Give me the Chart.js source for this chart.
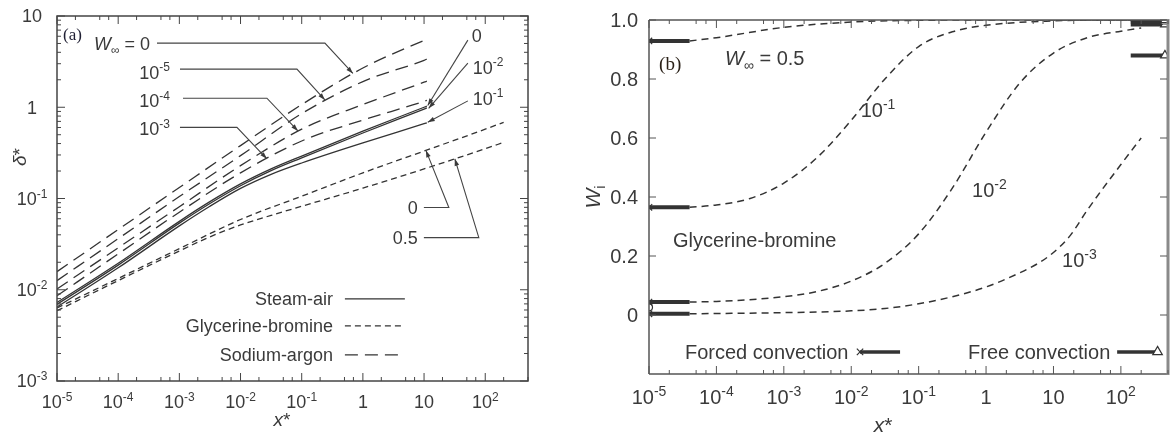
<!DOCTYPE html>
<html>
<head>
<meta charset="utf-8">
<script src="https://cdn.jsdelivr.net/npm/chart.js@4.4.1/dist/chart.umd.min.js"></script>
<style>
html, body { margin: 0; padding: 0; background: #fff; }
#wrap { position: relative; width: 1170px; height: 435px; overflow: hidden; }
#left { position: absolute; left: 0; top: 0; }
#right { position: absolute; left: 585px; top: 0; }
</style>
</head>
<body>
<div id="wrap">
<canvas id="left" width="585" height="435"></canvas>
<canvas id="right" width="585" height="435"></canvas>
</div>
<script>
// ---- (a) delta* against x* ----
var xSteam = [1e-5, 1e-4, 1e-3, 3.16e-3, 1e-2, 3.16e-2, 1e-1, 1, 10, 11.1];
var steamAir_W0 = [0.00724, 0.0195, 0.0562, 0.0923, 0.1445, 0.211, 0.292, 0.547, 1.00, 1.028];
var steamAir_W1em2 = [0.00692, 0.0186, 0.0537, 0.0881, 0.138, 0.202, 0.279, 0.522, 0.955, 0.982];
var steamAir_W1em1 = [0.00646, 0.0174, 0.0501, 0.0822, 0.129, 0.184, 0.245, 0.407, 0.661, 0.676];
var xNaAr = [1e-5, 1e-4, 1e-3, 1e-2, 1e-1, 1, 10, 11.1];
var sodiumArgon_W0 = [0.0158, 0.0457, 0.132, 0.380, 1.07, 2.69, 5.40, 5.56];
var sodiumArgon_W1em5 = [0.0126, 0.0363, 0.105, 0.295, 0.851, 1.91, 3.27, 3.37];
var sodiumArgon_W1em4 = [0.0102, 0.0288, 0.0813, 0.229, 0.575, 1.07, 1.88, 1.93];
var sodiumArgon_W1em3 = [0.00859, 0.0247, 0.0708, 0.191, 0.427, 0.724, 1.16, 1.19];
var xGly0 = [1e-5, 1e-4, 1e-3, 1e-2, 1e-1, 1, 10, 100, 200];
var glyBrom_W0 = [0.00631, 0.0133, 0.0282, 0.0589, 0.106, 0.191, 0.331, 0.575, 0.684];
var xGly05 = [1e-5, 1e-4, 1e-3, 3.16e-3, 1e-2, 3.16e-2, 1e-1, 1, 10, 100, 200];
var glyBrom_W05 = [0.00589, 0.0126, 0.0266, 0.038, 0.0513, 0.0653, 0.0822, 0.130, 0.211, 0.351, 0.412];

var xTickValsA = [1e-5, 1e-4, 1e-3, 1e-2, 1e-1, 1, 10, 100];
var xTickLabelsA = ['10^-5', '10^-4', '10^-3', '10^-2', '10^-1', '1', '10', '10^2'];
var yTickValsA = [1e-3, 1e-2, 1e-1, 1, 10];
var yTickLabelsA = ['10^-3', '10^-2', '10^-1', '1', '10'];

// ---- (b) W_i against x*, glycerine-bromine ----
var xW05 = [4e-5, 1e-4, 1e-3, 1e-2, 1e-1, 1, 10, 100, 200];
var wW05 = [0.929, 0.94, 0.975, 0.993, 0.999, 1.0, 1.0, 1.0, 1.0];
var xW1em1 = [4e-5, 1e-4, 3.16e-4, 1e-3, 3.16e-3, 1e-2, 3.16e-2, 0.1, 0.316, 1, 10, 100, 200];
var wW1em1 = [0.365, 0.373, 0.395, 0.447, 0.535, 0.66, 0.80, 0.91, 0.96, 0.982, 0.997, 1.0, 1.0];
var xW1em2 = [4e-5, 1e-4, 1e-3, 3.16e-3, 1e-2, 3.16e-2, 0.1, 0.316, 1, 3.16, 10, 31.6, 100, 200];
var wW1em2 = [0.044, 0.046, 0.062, 0.08, 0.115, 0.175, 0.275, 0.43, 0.62, 0.786, 0.888, 0.94, 0.962, 0.973];
var xW1em3 = [4e-5, 1e-4, 1e-3, 1e-2, 3.16e-2, 0.1, 0.316, 1, 3.16, 5.62, 10, 17.8, 31.6, 100, 200];
var wW1em3 = [0.004, 0.005, 0.008, 0.014, 0.022, 0.038, 0.062, 0.095, 0.143, 0.172, 0.212, 0.27, 0.355, 0.51, 0.60];

var forcedX = [1e-5, 4e-5];
var forcedW = [0.929, 0.365, 0.044, 0.004];
var freeX = [140, 450];
var freeW = [1.0, 0.995, 0.985, 0.88];
var circleMark = [1e-5, 0.026];
var legendW = -0.125;
var forcedSampleX = [0.0135, 0.053];
var freeSampleX = [88, 350];

var xTickValsB = [1e-5, 1e-4, 1e-3, 1e-2, 1e-1, 1, 10, 100];
var xTickLabelsB = ['10^-5', '10^-4', '10^-3', '10^-2', '10^-1', '1', '10', '10^2'];
var yTickValsB = [0, 0.2, 0.4, 0.6, 0.8, 1.0];
var yTickLabelsB = ['0', '0.2', '0.4', '0.6', '0.8', '1.0'];

var FONT = '"Liberation Sans", Arial, Helvetica, sans-serif';
var INK = '#333333';
var TXT = '#3a3a3a';

function pts(xs, ys) {
	return xs.map(function (x, i) { return { x: x, y: ys[i] }; });
}

function fontStr(kind, size) {
	var sz = (kind === 'sup' || kind === 'sub') ? Math.round(size * 0.68) : size;
	var fam = kind === 'serif' ? '"Liberation Serif", "Times New Roman", serif' : FONT;
	return (kind === 'i' ? 'italic ' : '') + sz + 'px ' + fam;
}

function toParts(s) {
	if (typeof s !== 'string') return s;
	var k = s.indexOf('^');
	if (k < 0) return [[s, 'n']];
	return [[s.slice(0, k), 'n'], [s.slice(k + 1), 'sup']];
}

// draws text with raised / lowered pieces, y is the vertical centre of the main glyphs
function drawText(ctx, s, x, y, align, size, color) {
	var parts = toParts(s), w = 0, i;
	for (i = 0; i < parts.length; i++) {
		ctx.font = fontStr(parts[i][1], size);
		w += ctx.measureText(parts[i][0]).width;
	}
	var cx = align === 'right' ? x - w : (align === 'center' ? x - w / 2 : x);
	var base = y + size * 0.36;
	ctx.textAlign = 'left';
	ctx.textBaseline = 'alphabetic';
	ctx.fillStyle = color || TXT;
	for (i = 0; i < parts.length; i++) {
		var k = parts[i][1];
		ctx.font = fontStr(k, size);
		var dy = k === 'sup' ? -size * 0.4 : (k === 'sub' ? size * 0.24 : 0);
		ctx.fillText(parts[i][0], cx, base + dy);
		cx += ctx.measureText(parts[i][0]).width;
	}
}

function seg(ctx, x1, y1, x2, y2) {
	ctx.beginPath();
	ctx.moveTo(x1, y1);
	ctx.lineTo(x2, y2);
	ctx.stroke();
}

function leader(ctx, p) {
	var n = p.length, i;
	ctx.beginPath();
	ctx.moveTo(p[0].x, p[0].y);
	for (i = 1; i < n; i++) ctx.lineTo(p[i].x, p[i].y);
	ctx.stroke();
	var a = p[n - 2], b = p[n - 1];
	var ang = Math.atan2(b.y - a.y, b.x - a.x), c = Math.cos(ang), s = Math.sin(ang);
	ctx.beginPath();
	ctx.moveTo(b.x, b.y);
	ctx.lineTo(b.x - 7 * c + 2.3 * s, b.y - 7 * s - 2.3 * c);
	ctx.lineTo(b.x - 7 * c - 2.3 * s, b.y - 7 * s + 2.3 * c);
	ctx.closePath();
	ctx.fill();
}

function logValues(min, max, minors) {
	var out = [], e, m, v, mults = [1].concat(minors);
	for (e = Math.floor(Math.log10(min)); e <= Math.ceil(Math.log10(max)); e++) {
		for (m = 0; m < mults.length; m++) {
			v = mults[m] * Math.pow(10, e);
			if (v >= min * 0.999 && v <= max * 1.001) out.push({ v: v, major: mults[m] === 1 });
		}
	}
	return out;
}

function axis(type, min, max, fit) {
	return {
		type: type, min: min, max: max,
		grid: { display: false },
		border: { display: false },
		ticks: { display: false },
		afterFit: fit
	};
}

function line(data, dash, width) {
	return {
		data: data, borderColor: INK, borderWidth: width || 1.3, borderDash: dash || [],
		pointRadius: 0, fill: false, cubicInterpolationMode: 'monotone'
	};
}

// ---------------- panel (a) ----------------
var leftDecor = {
	id: 'leftDecor',
	afterDraw: function (chart) {
		var ctx = chart.ctx, a = chart.chartArea, sx = chart.scales.x, sy = chart.scales.y;
		function P(lx, ly) {
			return { x: sx.getPixelForValue(Math.pow(10, lx)), y: sy.getPixelForValue(Math.pow(10, ly)) };
		}
		ctx.save();
		ctx.strokeStyle = '#444';
		ctx.fillStyle = '#444';
		ctx.lineWidth = 1.5;
		ctx.strokeRect(a.left, a.top, a.right - a.left, a.bottom - a.top);
		ctx.lineWidth = 1;
		logValues(1e-5, 500, [2, 5, 7]).forEach(function (t) {
			var x = sx.getPixelForValue(t.v), L = t.major ? 8 : 4;
			seg(ctx, x, a.bottom, x, a.bottom - L);
			seg(ctx, x, a.top, x, a.top + L);
		});
		logValues(1e-3, 10, [2, 3, 4, 5, 6, 7, 8, 9]).forEach(function (t) {
			var y = sy.getPixelForValue(t.v), L = t.major ? 8 : 4;
			seg(ctx, a.left, y, a.left + L, y);
			seg(ctx, a.right, y, a.right - L, y);
		});
		xTickValsA.forEach(function (v, i) {
			drawText(ctx, xTickLabelsA[i], sx.getPixelForValue(v), a.bottom + 21, 'center', 18);
		});
		yTickValsA.forEach(function (v, i) {
			drawText(ctx, yTickLabelsA[i], a.left - 25, sy.getPixelForValue(v), 'center', 18);
		});

		// axis titles
		drawText(ctx, [['x', 'i'], ['*', 'n']], 282, 419, 'center', 19);
		ctx.save();
		ctx.translate(19, 157);
		ctx.rotate(-Math.PI / 2);
		drawText(ctx, [['\u03b4', 'i'], ['*', 'n']], 0, 0, 'center', 19);
		ctx.restore();

		// labels and leaders
		ctx.lineWidth = 1.1;
		var q = P(-4.902, 0.808);
		drawText(ctx, [['(a)', 'serif']], q.x, q.y, 'left', 17, '#1f1f33');
		q = P(-3.48, 0.703);
		drawText(ctx, [['W', 'i'], ['\u221e', 'sub'], [' = 0', 'n']], q.x, q.y, 'right', 18);
		leader(ctx, [P(-3.366, 0.703), P(-0.621, 0.703), P(-0.163, 0.37)]);
		q = P(-3.154, 0.385);
		drawText(ctx, '10^-5', q.x, q.y, 'right', 18);
		leader(ctx, [P(-2.99, 0.418), P(-1.078, 0.418), P(-0.621, 0.08)]);
		q = P(-3.154, 0.077);
		drawText(ctx, '10^-4', q.x, q.y, 'right', 18);
		leader(ctx, [P(-2.941, 0.099), P(-1.569, 0.099), P(-1.062, -0.26)]);
		q = P(-3.154, -0.231);
		drawText(ctx, '10^-3', q.x, q.y, 'right', 18);
		leader(ctx, [P(-2.99, -0.22), P(-2.059, -0.22), P(-1.569, -0.565)]);

		q = P(1.781, 0.791);
		drawText(ctx, '0', q.x, q.y, 'left', 18);
		leader(ctx, [P(1.716, 0.736), P(1.06, 0.02)]);
		q = P(1.797, 0.44);
		drawText(ctx, '10^-2', q.x, q.y, 'left', 18);
		leader(ctx, [P(1.716, 0.484), P(1.075, -0.012)]);
		q = P(1.797, 0.099);
		drawText(ctx, '10^-1', q.x, q.y, 'left', 18);
		leader(ctx, [P(1.716, 0.07), P(1.06, -0.165)]);

		q = P(0.899, -1.099);
		drawText(ctx, '0', q.x, q.y, 'right', 18);
		leader(ctx, [P(0.997, -1.099), P(1.405, -1.099), P(1.03, -0.473)]);
		q = P(0.899, -1.429);
		drawText(ctx, '0.5', q.x, q.y, 'right', 18);
		leader(ctx, [P(0.997, -1.429), P(1.895, -1.429), P(1.503, -0.565)]);

		// key
		var keys = [['Steam-air', -2.099, []], ['Glycerine-bromine', -2.396, [6, 4]], ['Sodium-argon', -2.714, [13, 7]]];
		keys.forEach(function (k) {
			var t = P(-0.49, k[1]), s0 = P(-0.294, k[1]), s1 = P(0.686, k[1]);
			drawText(ctx, k[0], t.x, t.y, 'right', 18);
			ctx.save();
			ctx.strokeStyle = INK;
			ctx.lineWidth = 1.3;
			ctx.setLineDash(k[2]);
			seg(ctx, s0.x, s0.y, s1.x, s1.y);
			ctx.restore();
		});
		ctx.restore();
	}
};

new Chart(document.getElementById('left'), {
	type: 'line',
	data: {
		datasets: [
			line(pts(xSteam, steamAir_W0)),
			line(pts(xSteam, steamAir_W1em2)),
			line(pts(xSteam, steamAir_W1em1)),
			line(pts(xNaAr, sodiumArgon_W0), [13, 7]),
			line(pts(xNaAr, sodiumArgon_W1em5), [13, 7]),
			line(pts(xNaAr, sodiumArgon_W1em4), [13, 7]),
			line(pts(xNaAr, sodiumArgon_W1em3), [13, 7]),
			line(pts(xGly0, glyBrom_W0), [6, 4]),
			line(pts(xGly05, glyBrom_W05), [6, 4])
		]
	},
	options: {
		responsive: false,
		animation: false,
		events: [],
		layout: { padding: { left: 0, right: 57, top: 16, bottom: 0 }, autoPadding: false },
		plugins: { legend: { display: false }, tooltip: { enabled: false } },
		scales: {
			x: axis('logarithmic', 1e-5, 500, function (s) { s.height = 54; }),
			y: axis('logarithmic', 1e-3, 10, function (s) { s.width = 57; })
		}
	},
	plugins: [leftDecor]
});

// ---------------- panel (b) ----------------
function bar(xs, w, style, idx, radius, width) {
	return {
		data: pts(xs, xs.map(function () { return w; })),
		borderColor: INK, borderWidth: width || 4, pointStyle: style,
		pointRadius: function (c) { return c.dataIndex === idx ? radius : 0; },
		pointBorderColor: INK, pointBackgroundColor: '#fff', pointBorderWidth: 1.2, fill: false
	};
}

var rightSets = [
	line(pts(xW05, wW05), [7, 5], 1.5),
	line(pts(xW1em1, wW1em1), [7, 5], 1.5),
	line(pts(xW1em2, wW1em2), [7, 5], 1.5),
	line(pts(xW1em3, wW1em3), [7, 5], 1.5)
];
forcedW.forEach(function (w) { rightSets.push(bar(forcedX, w, 'crossRot', 0, 4.5, 4)); });
freeW.forEach(function (w) { rightSets.push(bar(freeX, w, 'triangle', 1, 5, 4)); });
rightSets.push({
	data: [{ x: circleMark[0], y: circleMark[1] }], showLine: false, pointStyle: 'circle',
	pointRadius: 3.5, pointBorderColor: INK, pointBackgroundColor: '#fff', pointBorderWidth: 1.2
});
rightSets.push(bar(forcedSampleX, legendW, 'crossRot', 0, 4.5, 3.5));
rightSets.push(bar(freeSampleX, legendW, 'triangle', 1, 5.5, 3.5));

var rightDecor = {
	id: 'rightDecor',
	afterDraw: function (chart) {
		var ctx = chart.ctx, a = chart.chartArea, sx = chart.scales.x, sy = chart.scales.y;
		function P(x, y) { return { x: sx.getPixelForValue(x), y: sy.getPixelForValue(y) }; }
		ctx.save();
		ctx.strokeStyle = '#555';
		ctx.lineWidth = 1.5;
		seg(ctx, a.right, a.top, a.left, a.top);
		seg(ctx, a.left, a.top, a.left, a.bottom);
		seg(ctx, a.left, a.bottom, a.right, a.bottom);
		ctx.strokeStyle = '#8a8a8a';
		ctx.lineWidth = 3;
		seg(ctx, a.right, a.top - 1, a.right, a.bottom + 1);
		ctx.strokeStyle = '#555';
		ctx.lineWidth = 1;
		logValues(1e-5, 500, [2, 5, 7]).forEach(function (t) {
			var x = sx.getPixelForValue(t.v), L = t.major ? 8 : 4;
			seg(ctx, x, a.bottom, x, a.bottom - L);
			seg(ctx, x, a.top, x, a.top + L);
		});
		yTickValsB.forEach(function (v) {
			var y = sy.getPixelForValue(v);
			seg(ctx, a.left, y, a.left + 7, y);
			seg(ctx, a.right - 1, y, a.right - 8, y);
		});
		xTickValsB.forEach(function (v, i) {
			drawText(ctx, xTickLabelsB[i], sx.getPixelForValue(v), a.bottom + 23, 'center', 20);
		});
		yTickValsB.forEach(function (v, i) {
			drawText(ctx, yTickLabelsB[i], a.left - 11, sy.getPixelForValue(v), 'right', 20);
		});

		drawText(ctx, [['x', 'i'], ['*', 'n']], 298, 424, 'center', 21);
		ctx.save();
		ctx.translate(7, 197);
		ctx.rotate(-Math.PI / 2);
		drawText(ctx, [['W', 'i'], ['i', 'sub']], 0, 0, 'center', 21);
		ctx.restore();

		var q = P(1.41e-5, 0.853);
		drawText(ctx, [['(b)', 'serif']], q.x, q.y, 'left', 19, '#2a2118');
		q = P(1.34e-4, 0.871);
		drawText(ctx, [['W', 'i'], ['\u221e', 'sub'], [' = 0.5', 'n']], q.x, q.y, 'left', 20);
		q = P(0.0138, 0.695);
		drawText(ctx, '10^-1', q.x, q.y, 'left', 20);
		q = P(0.62, 0.424);
		drawText(ctx, '10^-2', q.x, q.y, 'left', 20);
		q = P(13.4, 0.186);
		drawText(ctx, '10^-3', q.x, q.y, 'left', 20);
		q = P(2.27e-5, 0.254);
		drawText(ctx, 'Glycerine-bromine', q.x, q.y, 'left', 20);
		q = P(3.42e-5, legendW);
		drawText(ctx, 'Forced convection', q.x, q.y, 'left', 20);
		q = P(0.54, legendW);
		drawText(ctx, 'Free convection', q.x, q.y, 'left', 20);
		ctx.restore();
	}
};

new Chart(document.getElementById('right'), {
	type: 'line',
	data: { datasets: rightSets },
	options: {
		responsive: false,
		animation: false,
		events: [],
		layout: { padding: { left: 0, right: 2, top: 20, bottom: 0 }, autoPadding: false },
		plugins: { legend: { display: false }, tooltip: { enabled: false } },
		scales: {
			x: axis('logarithmic', 1e-5, 500, function (s) { s.height = 61; }),
			y: axis('linear', -0.2, 1.0, function (s) { s.width = 64; })
		}
	},
	plugins: [rightDecor]
});
</script>
</body>
</html>
